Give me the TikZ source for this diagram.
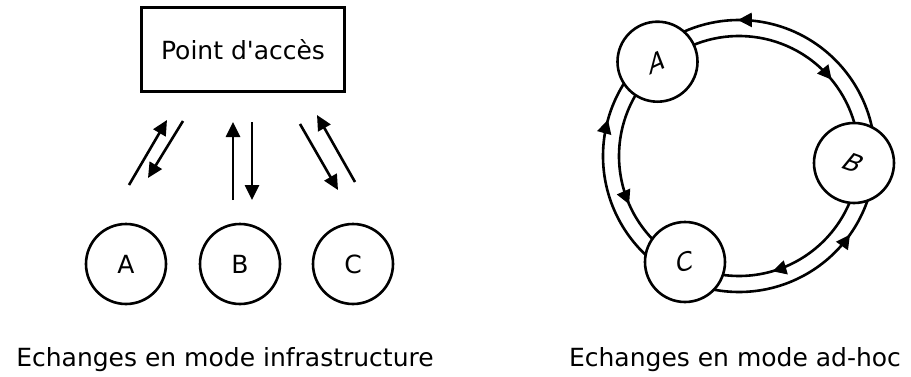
\documentclass[tikz,border=0pt]{standalone}
\usepackage{fontspec}
\setmainfont{DejaVu Sans}[Ligatures=TeXOff]
\usetikzlibrary{arrows.meta,decorations.markings,calc}
\begin{document}
\begin{tikzpicture}[x=1pt,y=1pt,
  txt/.style={font=\fontsize{25}{30}\selectfont,inner sep=0pt},
  station/.style={circle,draw,line width=2.6pt,minimum size=80pt,inner sep=0pt,fill=white,font=\fontsize{25}{30}\selectfont},
  apbox/.style={draw,line width=2.6pt,minimum width=203pt,minimum height=84pt,inner sep=0pt,font=\fontsize{25}{30}\selectfont},
  link/.style={line width=2.6pt,-{Triangle[length=15pt,width=14pt]}},
  ring/.style={line width=2.6pt},
  midarrow/.style={postaction={decorate},decoration={markings,mark=at position #1 with {\arrow{Triangle[length=14pt,width=14pt]}}}},
  ]
\useasboundingbox (0,0) rectangle (911,376);
% ---------- infrastructure ----------
\node[apbox] (ap) at (243,326.5) {Point d'accès};
\node[station] (A) at (126,112) {A};
\node[station] (B) at (240,112) {B};
\node[station] (C) at (353,112) {C};
\coordinate (a1) at (129,191); \coordinate (a2) at (167,256);
\coordinate (a3) at (183,255); \coordinate (a4) at (148,198);
\coordinate (b1) at (233,176); \coordinate (b2) at (233,254);
\coordinate (b3) at (252,254); \coordinate (b4) at (252,176);
\coordinate (c1) at (300,252); \coordinate (c2) at (338,186);
\coordinate (c3) at (355,194); \coordinate (c4) at (317,261);
\draw[link] (a1) -- (a2);
\draw[link] (a3) -- (a4);
\draw[link] (b1) -- (b2);
\draw[link] (b3) -- (b4);
\draw[link] (c1) -- (c2);
\draw[link] (c3) -- (c4);
\node[txt,anchor=base] (lab1) at (225,10) {Echanges en mode infrastructure};
% ---------- ad-hoc ----------
\coordinate (O) at (739,220);
\draw[ring,midarrow=0.70] ($(O)+(-3.5:136)$) arc[start angle=-3.5,end angle=130.8,radius=136];
\draw[ring,midarrow=0.68] ($(O)+(130.8:120)$) arc[start angle=130.8,end angle=-3.5,radius=120];
\draw[ring,midarrow=0.72] ($(O)+(-117:136)$) arc[start angle=-117,end angle=-3.5,radius=136];
\draw[ring,midarrow=0.62] ($(O)+(-3.5:120)$) arc[start angle=-3.5,end angle=-117,radius=120];
\draw[ring,midarrow=0.70] ($(O)+(243:136)$) arc[start angle=243,end angle=130.8,radius=136];
\draw[ring,midarrow=0.65] ($(O)+(130.8:120)$) arc[start angle=130.8,end angle=243,radius=120];
\node[station] (RA) at (657.5,314.3) {};
\node[station] (RB) at (854,213) {};
\node[station] (RC) at (685,114) {};
\node[txt,rotate=25,xslant=0.45] (RAt) at (RA) {A};
\node[txt,rotate=-20,xslant=0.35] (RBt) at (RB) {B};
\node[txt,rotate=15,xslant=0.25] (RCt) at (RC) {C};
\node[txt,anchor=base] (lab2) at (735,10) {Echanges en mode ad-hoc};
\end{tikzpicture}
\end{document}
